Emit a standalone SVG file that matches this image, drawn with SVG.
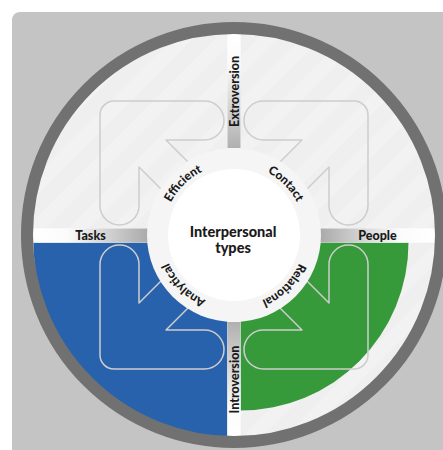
<svg xmlns="http://www.w3.org/2000/svg" xmlns:xlink="http://www.w3.org/1999/xlink" width="443" height="450" viewBox="0 0 443 450">
  <style>
    .lbl { font-family: Lato, "Liberation Sans", sans-serif; font-weight: 900; fill: #1a1a1a; }
    .axis { font-size: 12.5px; }
    .ring-lbl { font-size: 12px; }
    .title { font-size: 14.5px; }
    .arrow { fill: none; stroke: #cdcdcd; stroke-width: 1.5; stroke-linejoin: round; }
  </style>
  <defs>
    <pattern id="stripes" width="30" height="30" patternUnits="userSpaceOnUse" patternTransform="rotate(45)">
      <rect x="0" y="0" width="14" height="30" fill="#ffffff" opacity="0.2"/>
    </pattern>
    <clipPath id="disk-clip">
      <circle cx="234" cy="235" r="201"/>
    </clipPath>
    <linearGradient id="g-top" gradientUnits="userSpaceOnUse" x1="0" y1="34" x2="0" y2="148">
      <stop offset="0" stop-color="#ffffff"/>
      <stop offset="0.25" stop-color="#fbfbfb"/>
      <stop offset="1" stop-color="#b0b0b0"/>
    </linearGradient>
    <linearGradient id="g-bottom" gradientUnits="userSpaceOnUse" x1="0" y1="436" x2="0" y2="322">
      <stop offset="0" stop-color="#ffffff"/>
      <stop offset="0.25" stop-color="#fbfbfb"/>
      <stop offset="1" stop-color="#b0b0b0"/>
    </linearGradient>
    <linearGradient id="g-left" gradientUnits="userSpaceOnUse" x1="33" y1="0" x2="148" y2="0">
      <stop offset="0" stop-color="#ffffff"/>
      <stop offset="0.3" stop-color="#fbfbfb"/>
      <stop offset="1" stop-color="#aaaaaa"/>
    </linearGradient>
    <linearGradient id="g-right" gradientUnits="userSpaceOnUse" x1="435" y1="0" x2="320" y2="0">
      <stop offset="0" stop-color="#ffffff"/>
      <stop offset="0.3" stop-color="#fbfbfb"/>
      <stop offset="1" stop-color="#aaaaaa"/>
    </linearGradient>
    <!-- corner arrow pointing up-left, drawn around the wheel centre -->
    <path id="corner-arrow" d="M -120,-134 H -29.5 A 19.5 19.5 0 0 1 -29.5,-95 H -68 L 0,-27 L -27,0 L -95,-68 V -29.5 A 19.5 19.5 0 0 1 -134,-29.5 V -120 A 14 14 0 0 1 -120,-134 Z"/>
    <!-- clockwise baseline for the ring labels -->
    <path id="label-arc" d="M 305,235 A 71 71 0 1 1 163,235 A 71 71 0 1 1 305,235"/>
  </defs>

  <!-- panel -->
  <rect x="12" y="12" width="445" height="450" rx="8" fill="#c4c4c4"/>

  <!-- wheel face -->
  <g id="wheel">
    <circle cx="234" cy="235" r="207" fill="#efefef"/>
    <rect x="20" y="20" width="430" height="430" fill="url(#stripes)" clip-path="url(#disk-clip)"/>
  </g>

  <!-- quadrant scores -->
  <g id="quadrant-analytical">
    <path d="M 227.5,242.5 H 33.5 A 194 194 0 0 0 227.5,436.5 Z" fill="#2962ac"/>
  </g>
  <g id="quadrant-relational">
    <path d="M 240.5,242.5 H 408.5 A 168 168 0 0 1 240.5,410.5 Z" fill="#36993a"/>
  </g>

  <!-- axis bands -->
  <g id="axes">
    <rect x="227.5" y="28" width="13" height="414" fill="#fbfbfb"/>
    <rect x="28" y="228.5" width="414" height="14" fill="#fbfbfb"/>
    <rect x="227.5" y="34" width="13" height="114" fill="url(#g-top)"/>
    <rect x="227.5" y="322" width="13" height="114" fill="url(#g-bottom)"/>
    <rect x="33" y="228.5" width="115" height="14" fill="url(#g-left)"/>
    <rect x="320" y="228.5" width="115" height="14" fill="url(#g-right)"/>
  </g>

  <!-- arrows -->
  <g id="arrows">
    <use xlink:href="#corner-arrow" class="arrow" transform="translate(234,235)"/>
    <use xlink:href="#corner-arrow" class="arrow" transform="translate(234,235) scale(-1,1)"/>
    <use xlink:href="#corner-arrow" class="arrow" transform="translate(234,235) scale(1,-1)"/>
    <use xlink:href="#corner-arrow" class="arrow" transform="translate(234,235) scale(-1,-1)"/>
  </g>

  <!-- rim -->
  <circle cx="234" cy="235" r="207" fill="none" stroke="#717171" stroke-width="12"/>

  <!-- axis labels -->
  <g id="label-extroversion">
    <text class="lbl axis" x="238.5" y="91.5" text-anchor="middle" transform="rotate(-90 238.5 91.5)">Extroversion</text>
  </g>
  <g id="label-introversion">
    <text class="lbl axis" x="238.5" y="379.5" text-anchor="middle" transform="rotate(-90 238.5 379.5)">Introversion</text>
  </g>
  <g id="label-tasks">
    <text class="lbl axis" x="90.5" y="240" text-anchor="middle">Tasks</text>
  </g>
  <g id="label-people">
    <text class="lbl axis" x="377.5" y="240" text-anchor="middle">People</text>
  </g>

  <!-- hub -->
  <g id="hub">
    <circle cx="234" cy="235" r="87" fill="#f5f5f5"/>
    <circle cx="234" cy="235" r="66" fill="#ffffff"/>
    <text class="lbl title" x="233" y="237" text-anchor="middle">Interpersonal</text>
    <text class="lbl title" x="233" y="253" text-anchor="middle">types</text>
  </g>

  <g id="type-relational">
    <text class="lbl ring-lbl"><textPath xlink:href="#label-arc" startOffset="55.8" text-anchor="middle">Relational</textPath></text>
  </g>
  <g id="type-analytical">
    <text class="lbl ring-lbl"><textPath xlink:href="#label-arc" startOffset="167.3" text-anchor="middle">Analytical</textPath></text>
  </g>
  <g id="type-efficient">
    <text class="lbl ring-lbl"><textPath xlink:href="#label-arc" startOffset="278.8" text-anchor="middle">Efficient</textPath></text>
  </g>
  <g id="type-contact">
    <text class="lbl ring-lbl"><textPath xlink:href="#label-arc" startOffset="390.3" text-anchor="middle">Contact</textPath></text>
  </g>
</svg>
